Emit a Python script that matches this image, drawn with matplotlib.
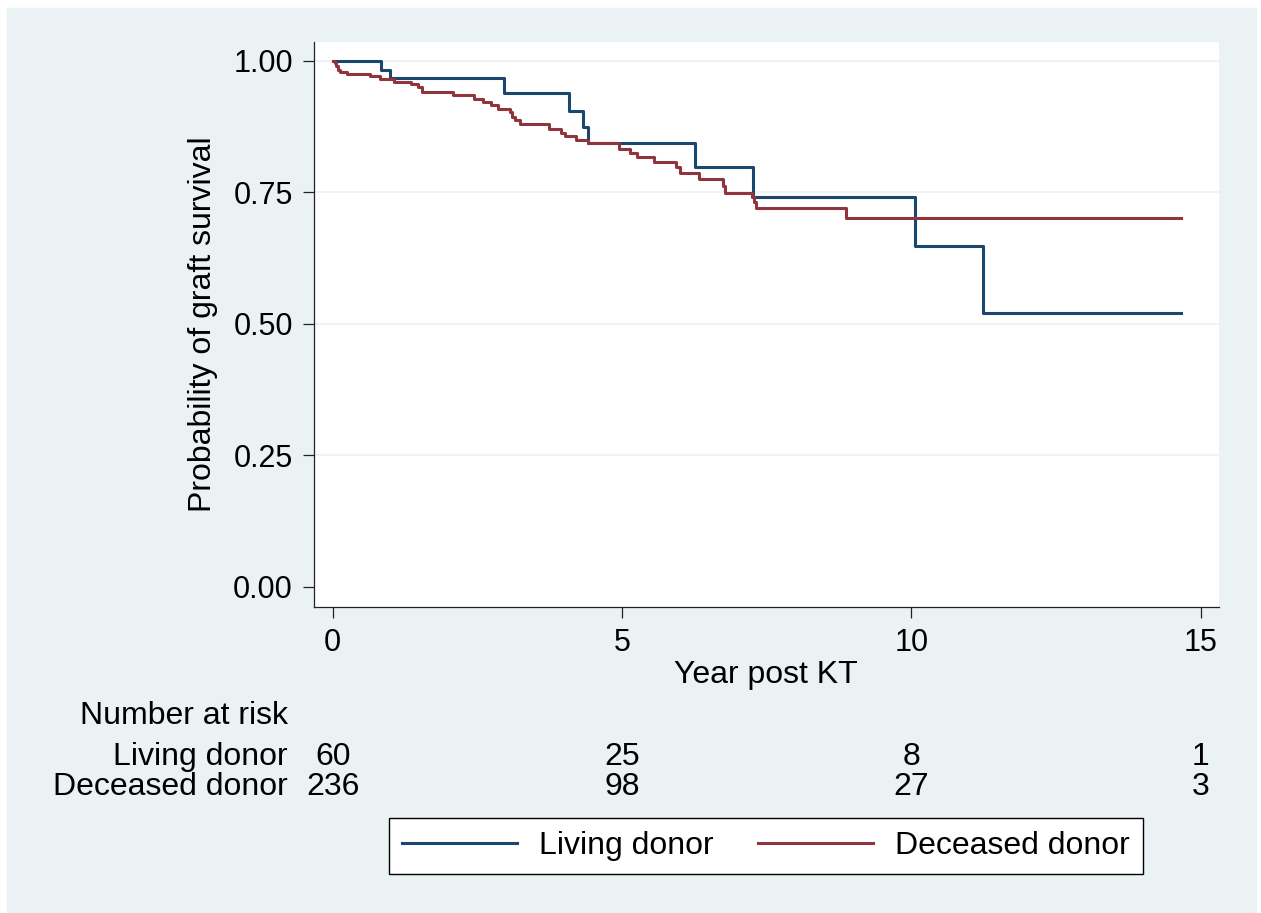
import numpy as np
import matplotlib
matplotlib.use('Agg')
import matplotlib.pyplot as plt
import matplotlib.transforms as mtransforms
from matplotlib.patches import Rectangle
from matplotlib.lines import Line2D

plt.rcParams['font.family'] = ['Liberation Sans', 'DejaVu Sans']

# Kaplan-Meier steps
living_t = [0, 0.835, 0.99, 2.96, 4.08, 4.33, 4.41, 6.26, 7.27, 10.07, 11.24, 14.66]
living_s = [1.0, 0.983, 0.967, 0.938, 0.905, 0.874, 0.844, 0.798, 0.741, 0.648, 0.520, 0.520]

deceased_t = [0, 0.035, 0.065, 0.095, 0.135, 0.24, 0.645, 0.81, 1.06, 1.36, 1.48, 1.55,
              2.08, 2.45, 2.60, 2.74, 2.86, 3.06, 3.10, 3.15, 3.23, 3.73, 3.94, 4.02,
              4.21, 4.41, 4.95, 5.13, 5.25, 5.56, 5.93, 6.01, 6.33, 6.74, 6.78, 7.24,
              7.28, 7.31, 8.87, 14.66]
deceased_s = [1.0, 0.995, 0.989, 0.982, 0.978, 0.974, 0.970, 0.965, 0.960, 0.955, 0.949, 0.941,
              0.935, 0.928, 0.922, 0.916, 0.909, 0.903, 0.893, 0.887, 0.879, 0.871, 0.863, 0.857,
              0.850, 0.843, 0.833, 0.825, 0.816, 0.808, 0.798, 0.787, 0.775, 0.761, 0.749, 0.741,
              0.731, 0.719, 0.700, 0.700]

risk_times = [0, 5, 10, 15]
risk_living = [60, 25, 8, 1]
risk_deceased = [236, 98, 27, 3]

navy = '#1A476F'
maroon = '#90353B'
bg = '#EAF2F3'
fs = 23

W, H = 1261, 913
fig = plt.figure(figsize=(W / 100, H / 100), dpi=100)
fig.patch.set_facecolor('white')
fig.patches.append(Rectangle((7 / W, 0), (1256 - 7) / W, (H - 8) / H,
                             transform=fig.transFigure, color=bg, zorder=-10))

ax = fig.add_axes([313.7 / W, 1 - 607.3 / H, (1219 - 313.7) / W, (607.3 - 41.7) / H])
ax.set_facecolor('white')

for yv in [0.25, 0.5, 0.75, 1.0]:
    ax.axhline(yv, color=bg, lw=1.2, zorder=0)

ax.step(living_t, living_s, where='post', color=navy, lw=2.2)
ax.step(deceased_t, deceased_s, where='post', color=maroon, lw=2.2)

ax.set_xlim(-0.328, 15.315)
ax.set_ylim(-0.039, 1.036)
ax.set_xticks([0, 5, 10, 15])
ax.set_yticks([0, 0.25, 0.5, 0.75, 1.0])
ax.set_yticklabels(['0.00', '0.25', '0.50', '0.75', '1.00'])

for s in ['top', 'right']:
    ax.spines[s].set_visible(False)
for s in ['left', 'bottom']:
    ax.spines[s].set_linewidth(0.9)
    ax.spines[s].set_color('#222222')
ax.tick_params(direction='out', length=8, width=0.9, color='#222222',
               labelsize=22, pad=7)

ax.set_xlabel('Year post KT', fontsize=fs, labelpad=1)
ax.set_ylabel('Probability of graft survival', fontsize=fs, labelpad=11)

# number at risk table
trans = mtransforms.blended_transform_factory(ax.transData, fig.transFigure)
lab_x = 288 / W
fig.text(lab_x, 1 - 716 / H, 'Number at risk', ha='right', va='center', fontsize=fs)
fig.text(lab_x, 1 - 757 / H, 'Living donor', ha='right', va='center', fontsize=fs)
fig.text(lab_x, 1 - 787 / H, 'Deceased donor', ha='right', va='center', fontsize=fs)
for t, n1, n2 in zip(risk_times, risk_living, risk_deceased):
    ax.text(t, 1 - 757 / H, str(n1), transform=trans, ha='center', va='center', fontsize=fs)
    ax.text(t, 1 - 787 / H, str(n2), transform=trans, ha='center', va='center', fontsize=fs)

handles = [Line2D([], [], color=navy, lw=2.2), Line2D([], [], color=maroon, lw=2.2)]
leg = fig.legend(handles, ['Living donor', 'Deceased donor'], loc='center',
                 bbox_to_anchor=(766 / W, 1 - 846 / H), ncol=2, fontsize=fs,
                 frameon=True, fancybox=False, edgecolor='black', framealpha=1,
                 handlelength=3.6, handletextpad=0.69, columnspacing=1.41,
                 borderpad=0.4)
leg.get_frame().set_linewidth(1.0)

fig.savefig('out.png', dpi=100, facecolor=fig.get_facecolor())
